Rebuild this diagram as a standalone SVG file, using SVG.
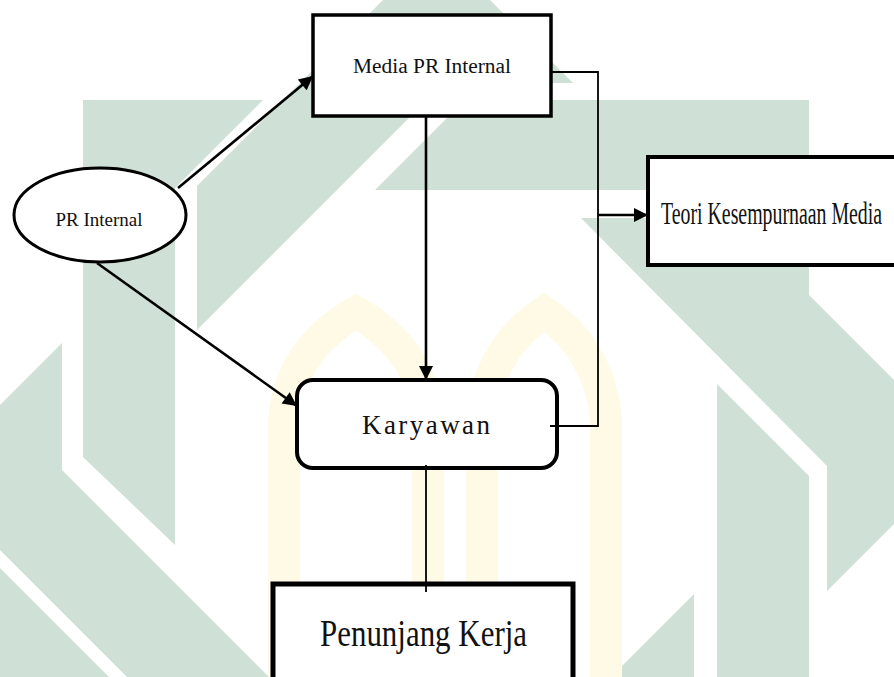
<svg xmlns="http://www.w3.org/2000/svg" width="894" height="677" viewBox="0 0 894 677">
<defs>
<style>
.wm{fill:#cfe0d6;stroke:none}
.ya{fill:none;stroke:#fefae6;stroke-width:32}
.box{fill:#fff;stroke:#000}
.lbl{font-family:"Liberation Serif","Times New Roman",serif;fill:#111}
.con{fill:none;stroke:#000;stroke-width:2.6}
.thin{fill:none;stroke:#000;stroke-width:1.8}
</style>
<marker id="ah" viewBox="0 0 10 10" refX="10" refY="5" markerUnits="userSpaceOnUse" markerWidth="16" markerHeight="14" orient="auto">
<path d="M0,0 L10,5 L0,10 z" fill="#000"/>
</marker>
</defs>
<rect x="0" y="0" width="894" height="677" fill="#fff"/>
<g id="watermark">
<polygon class="wm" points="83,100 263,100 175,188 175,545 83,457"/>
<polygon class="wm" points="383,0 490,0 573,83 551,83 450,77 197,330 197,186"/>
<polygon class="wm" points="465,100 809,100 809,295 717,295 717,190 375,190"/>
<polygon class="wm" points="581,218 732,218 894,380 894,524 827,591 827,466"/>
<polygon class="wm" points="717,384 809,476 809,677 717,677"/>
<polygon class="wm" points="0,405 62,343 62,470 269,677 127,677 0,550"/>
<polygon class="wm" points="0,568 109,677 0,677"/>
<polygon class="wm" points="694,594 694,677 611,677"/>
<path class="ya" d="M284,677 V420 Q290,350 356,312 Q422,350 428,420 V677"/>
<path class="ya" d="M482,677 V420 Q488,350 544,312 Q600,350 606,420 V677"/>
</g>
<g id="node-pr-internal">
<ellipse class="box" cx="100" cy="215" rx="86" ry="47" stroke-width="3"/>
<text class="lbl" x="99" y="226" font-size="19" text-anchor="middle">PR Internal</text>
</g>
<g id="node-media">
<rect class="box" x="313" y="15" width="238" height="101" stroke-width="3.5"/>
<text class="lbl" x="353" y="73" font-size="20" textLength="158" lengthAdjust="spacingAndGlyphs">Media PR Internal</text>
</g>
<g id="node-teori">
<rect class="box" x="648" y="157" width="260" height="108" stroke-width="4"/>
<text class="lbl" transform="translate(661,224) scale(0.64,1)" x="0" y="0" font-size="31">Teori Kesempurnaan Media</text>
</g>
<g id="node-karyawan">
<rect class="box" x="297" y="380" width="260" height="88" rx="16" ry="16" stroke-width="4"/>
<text class="lbl" x="362" y="434" font-size="27" textLength="128">Karyawan</text>
</g>
<g id="node-penunjang">
<rect class="box" x="273" y="584" width="300" height="110" stroke-width="5"/>
<text class="lbl" x="320" y="646" font-size="38" textLength="207" lengthAdjust="spacingAndGlyphs">Penunjang Kerja</text>
</g>
<g id="connectors">
<line class="con" x1="178" y1="188" x2="313" y2="76" marker-end="url(#ah)"/>
<line class="con" x1="97" y1="263" x2="297" y2="406" marker-end="url(#ah)"/>
<line class="con" x1="426" y1="116" x2="426" y2="380" marker-end="url(#ah)"/>
<path class="thin" d="M551,72 H598 V426 H550"/>
<line class="con" x1="598" y1="215" x2="648" y2="215" marker-end="url(#ah)"/>
<line class="thin" x1="426" y1="465" x2="426" y2="592"/>
</g>
</svg>
